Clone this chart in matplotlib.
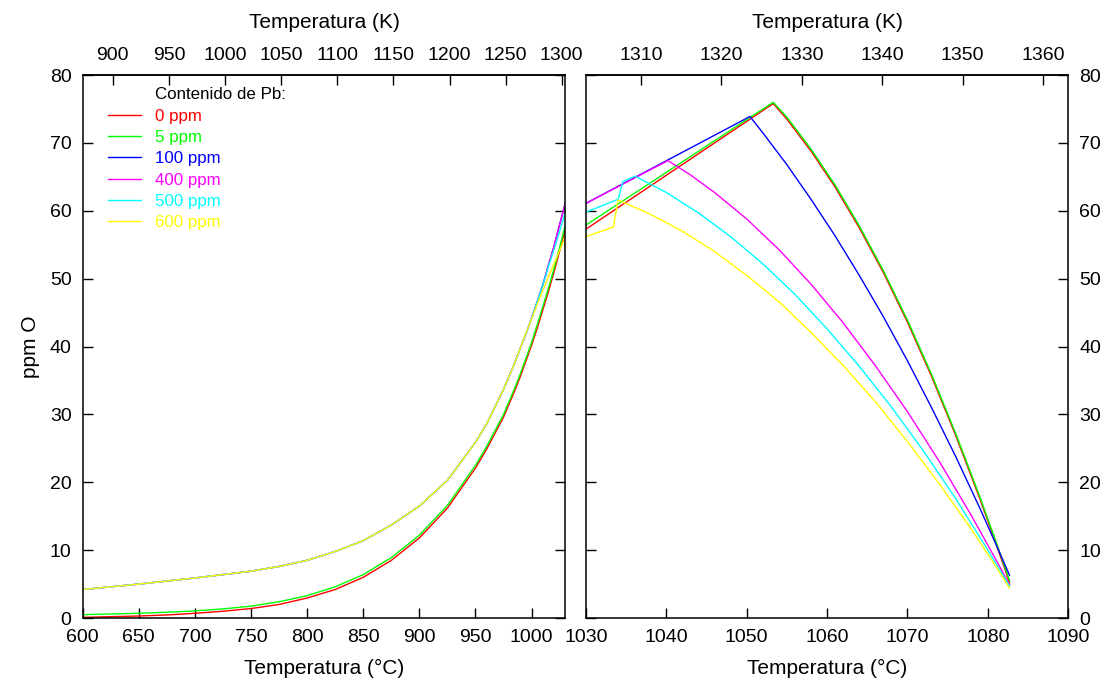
import matplotlib
matplotlib.use('Agg')
import matplotlib.pyplot as plt

plt.rcParams['font.family'] = ['Liberation Sans', 'DejaVu Sans']

# oxygen content (ppm O) vs temperature (°C) for each Pb content
t_low = [600, 625, 650, 675, 700, 725, 750, 775, 800, 825, 850, 875, 900, 925, 950, 960, 975, 985,
         990, 995, 1000, 1005, 1010, 1015, 1020, 1025, 1030]

o_red_low = [0.1, 0.2, 0.3, 0.45, 0.7, 1.0, 1.4, 2.0, 2.95, 4.2, 6.0, 8.5, 11.8, 16.2, 22.1, 24.9, 29.6,
             33.5, 35.6, 37.9, 40.2, 42.7, 45.4, 48.1, 51.0, 54.1, 57.3]
o_green_low = [0.5, 0.6, 0.7, 0.85, 1.05, 1.35, 1.75, 2.4, 3.3, 4.6, 6.4, 8.9, 12.2, 16.6, 22.5, 25.3, 30.0,
               33.9, 36.0, 38.3, 40.6, 43.2, 45.9, 48.6, 51.5, 54.6, 57.9]
o_high_low = [4.2, 4.6, 5.0, 5.45, 5.9, 6.4, 6.9, 7.6, 8.5, 9.8, 11.4, 13.7, 16.5, 20.3, 25.9, 28.6, 33.7,
              37.6, 39.8, 41.9, 44.2, 46.6, 49.1, 52.0, 54.8, 58.0, 61.1]
o_cyan_low = [4.2, 4.6, 5.0, 5.45, 5.9, 6.4, 6.9, 7.6, 8.5, 9.8, 11.4, 13.7, 16.5, 20.3, 25.9, 28.6, 33.7,
              37.6, 39.8, 41.9, 44.2, 46.6, 49.1, 51.8, 54.3, 57.0, 59.8]
o_yellow_low = [4.2, 4.6, 5.0, 5.45, 5.9, 6.4, 6.9, 7.6, 8.5, 9.8, 11.4, 13.7, 16.5, 20.3, 25.9, 28.6, 33.7,
                37.6, 39.8, 42.0, 44.1, 46.2, 48.3, 50.3, 52.2, 54.2, 56.2]

# above 1030 °C
t_red_hi = [1053.3, 1055, 1058, 1061, 1064, 1067, 1070, 1073, 1076, 1079, 1081, 1082.7]
o_red_hi = [75.8, 73.5, 68.8, 63.5, 57.5, 50.9, 43.6, 35.6, 26.9, 17.6, 11.0, 5.2]
o_green_hi = [76.0, 73.8, 69.1, 63.8, 57.8, 51.2, 43.9, 35.9, 27.2, 17.9, 11.3, 5.5]

t_blue_hi = [1050.4, 1052, 1055, 1058, 1061, 1064, 1067, 1070, 1073, 1076, 1079, 1081, 1082.7]
o_blue_hi = [73.9, 71.5, 66.8, 61.7, 56.3, 50.5, 44.4, 37.9, 31.0, 23.8, 16.2, 10.9, 6.3]

t_magenta_hi = [1040.2, 1043, 1046, 1050, 1054, 1058, 1062, 1066, 1070, 1074, 1078, 1081, 1082.7]
o_magenta_hi = [67.4, 65.3, 62.7, 58.8, 54.3, 49.2, 43.5, 37.2, 30.4, 23.0, 15.0, 8.6, 4.9]

t_cyan_hi = [1034.0, 1034.6, 1036.1, 1040, 1044, 1048, 1052, 1056, 1060, 1064, 1068, 1072, 1076, 1080, 1082.7]
o_cyan_hi = [61.7, 64.3, 65.1, 62.7, 59.7, 56.2, 52.2, 47.7, 42.6, 37.1, 31.1, 24.6, 17.6, 10.0, 4.7]

t_yellow_hi = [1033.4, 1034.0, 1038, 1042, 1046, 1050, 1054, 1058, 1062, 1066, 1070, 1074, 1078, 1081, 1082.7]
o_yellow_hi = [57.6, 61.6, 59.5, 57.0, 54.0, 50.5, 46.6, 42.1, 37.2, 31.9, 26.0, 19.7, 13.0, 7.6, 4.4]

series = [
    ('0 ppm', '#ff0000', t_low + t_red_hi, o_red_low + o_red_hi),
    ('5 ppm', '#00ff00', t_low + t_red_hi, o_green_low + o_green_hi),
    ('100 ppm', '#0000ff', t_low + t_blue_hi, o_high_low + o_blue_hi),
    ('400 ppm', '#ff00ff', t_low + t_magenta_hi, o_high_low + o_magenta_hi),
    ('500 ppm', '#00ffff', t_low + t_cyan_hi, o_cyan_low + o_cyan_hi),
    ('600 ppm', '#ffff00', t_low + t_yellow_hi, o_yellow_low + o_yellow_hi),
]

left_xticks = list(range(600, 1001, 50))
right_xticks = list(range(1030, 1091, 10))
left_kticks = list(range(900, 1301, 50))
right_kticks = list(range(1310, 1361, 10))
yticks = list(range(0, 81, 10))


def c2k(c):
    return c + 273.15


def k2c(k):
    return k - 273.15


fig = plt.figure(figsize=(11.11, 6.89), dpi=100)
ax1 = fig.add_axes([0.0744, 0.1030, 0.4344, 0.788])
ax2 = fig.add_axes([0.5274, 0.1030, 0.4341, 0.788])

for ax in (ax1, ax2):
    for label, color, t, o in series:
        ax.plot(t, o, color=color, lw=1.0, label=label)
    ax.set_ylim(0, 80)
    ax.set_yticks(yticks)
    ax.tick_params(direction='in', length=7, width=1, labelsize=14, pad=8,
                   left=True, right=True, top=False)
    for sp in ax.spines.values():
        sp.set_linewidth(1.1)
    ax.set_xlabel('Temperatura (°C)', fontsize=15, labelpad=9)

ax1.set_xlim(600, 1030)
ax1.set_xticks(left_xticks)
ax1.set_ylabel('ppm O', fontsize=15, labelpad=7)

ax2.set_xlim(1030, 1090)
ax2.set_xticks(right_xticks)
ax2.tick_params(axis='y', labelleft=False, labelright=True)

for ax, kt in ((ax1, left_kticks), (ax2, right_kticks)):
    sec = ax.secondary_xaxis('top', functions=(c2k, k2c))
    sec.set_xticks(kt)
    sec.tick_params(direction='in', length=7, width=1, labelsize=14, pad=8)
    sec.spines['top'].set_linewidth(1.1)
    sec.set_xlabel('Temperatura (K)', fontsize=15, labelpad=13.5)

leg = ax1.legend(loc='upper left', bbox_to_anchor=(0.053, 0.938), frameon=False,
                 fontsize=12.2, handlelength=1.95, handletextpad=0.79,
                 labelspacing=0.37, borderpad=0, borderaxespad=0,
                 labelcolor='linecolor')
ax1.text(0.150, 0.965, 'Contenido de Pb:', transform=ax1.transAxes,
         fontsize=12.2, ha='left', va='center')

fig.savefig('out.png', dpi=100)
